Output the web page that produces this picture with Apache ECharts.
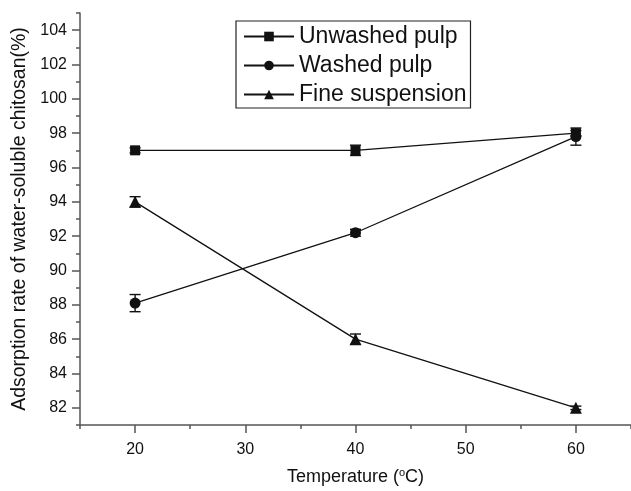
<!DOCTYPE html>
<html>
<head>
<meta charset="utf-8">
<script src="https://cdn.jsdelivr.net/npm/echarts@6/dist/echarts.min.js"></script>
<style>
  html, body { margin: 0; padding: 0; background: #fff; }
  #main { width: 631px; height: 491px; }
</style>
</head>
<body>
<div id="main"></div>
<script>
// data
var temps = [20, 40, 60];
var unwashed = [97.0, 97.0, 98.0];
var unwashedErr = [0.15, 0.3, 0.15];
var washed = [88.1, 92.2, 97.8];
var washedErr = [0.5, 0.2, 0.5];
var fine = [94.0, 86.0, 82.0];
var fineErr = [0.3, 0.3, 0.1];
var xMajor = [20, 30, 40, 50, 60];
var yMajor = [82, 84, 86, 88, 90, 92, 94, 96, 98, 100, 102, 104];

var font = 'Liberation Sans, Arial, sans-serif';
var ink = '#111';
var axisGrey = '#555';

function pairs(ys) {
  return temps.map(function (t, i) { return [t, ys[i]]; });
}
function errRows(ys, es) {
  return temps.map(function (t, i) { return [t, ys[i] - es[i], ys[i] + es[i]]; });
}

function renderErr(params, api) {
  var x = api.value(0);
  var top = api.coord([x, api.value(2)]);
  var bot = api.coord([x, api.value(1)]);
  var half = 5.5;
  var st = { stroke: ink, lineWidth: 1.4 };
  return {
    type: 'group',
    children: [
      { type: 'line', shape: { x1: top[0], y1: top[1], x2: bot[0], y2: bot[1] }, style: st },
      { type: 'line', shape: { x1: top[0] - half, y1: top[1], x2: top[0] + half, y2: top[1] }, style: st },
      { type: 'line', shape: { x1: bot[0] - half, y1: bot[1], x2: bot[0] + half, y2: bot[1] }, style: st }
    ]
  };
}

function lineSeries(name, ys, symbol, size) {
  return {
    name: name,
    type: 'line',
    data: pairs(ys),
    symbol: symbol,
    symbolSize: size,
    z: 5,
    itemStyle: { color: ink },
    lineStyle: { color: ink, width: 1.3 }
  };
}
function errSeries(ys, es) {
  return {
    type: 'custom',
    renderItem: renderErr,
    data: errRows(ys, es),
    encode: { x: 0, y: [1, 2] },
    z: 3,
    silent: true
  };
}

var chart = echarts.init(document.getElementById('main'));
chart.setOption({
  animation: false,
  backgroundColor: '#fff',
  textStyle: { fontFamily: font },
  grid: { left: 80, top: 13, right: -8, bottom: 62 },
  legend: {
    orient: 'vertical',
    left: 236,
    top: 21,
    padding: [4, 4, 2, 7],
    itemWidth: 50,
    itemHeight: 12,
    itemGap: 6,
    borderColor: '#222',
    borderWidth: 1.2,
    textStyle: { fontSize: 23, fontFamily: font, color: ink },
    data: ['Unwashed pulp', 'Washed pulp', 'Fine suspension']
  },
  xAxis: [{
    type: 'value',
    min: 15, max: 65, interval: 5,
    name: 'Temperature ({s|o}C)',
    nameLocation: 'middle',
    nameGap: 42,
    nameTextStyle: {
      fontSize: 18, color: ink, fontFamily: font,
      rich: { s: { fontSize: 11, verticalAlign: 'top', padding: [0, 0, 9, 0], color: ink, fontFamily: font } }
    },
    axisLine: { lineStyle: { color: axisGrey, width: 1.5 } },
    axisTick: { length: 4, lineStyle: { color: axisGrey, width: 1.5 } },
    axisLabel: { customValues: xMajor, fontSize: 16, color: ink, margin: 17, fontFamily: font },
    splitLine: { show: false }
  }, {
    type: 'value',
    position: 'bottom',
    min: 15, max: 65, interval: 5,
    axisLine: { show: false },
    axisTick: { customValues: xMajor, length: 8, lineStyle: { color: axisGrey, width: 1.5 } },
    axisLabel: { show: false },
    splitLine: { show: false }
  }],
  yAxis: [{
    type: 'value',
    min: 81, max: 105, interval: 1,
    name: 'Adsorption rate of water-soluble chitosan(%)',
    nameLocation: 'middle',
    nameGap: 49,
    nameTextStyle: { fontSize: 19.5, color: ink, fontFamily: font },
    axisLine: { show: true, lineStyle: { color: axisGrey, width: 1.5 } },
    axisTick: { show: true, length: 4, lineStyle: { color: axisGrey, width: 1.5 } },
    axisLabel: { customValues: yMajor, fontSize: 16, color: ink, margin: 13, fontFamily: font },
    splitLine: { show: false }
  }, {
    type: 'value',
    position: 'left',
    min: 81, max: 105, interval: 1,
    axisLine: { show: false },
    axisTick: { show: true, customValues: yMajor, length: 8, lineStyle: { color: axisGrey, width: 1.5 } },
    axisLabel: { show: false },
    splitLine: { show: false }
  }],
  series: [
    errSeries(unwashed, unwashedErr),
    errSeries(washed, washedErr),
    errSeries(fine, fineErr),
    lineSeries('Unwashed pulp', unwashed, 'rect', 10),
    lineSeries('Washed pulp', washed, 'circle', 11),
    lineSeries('Fine suspension', fine, 'triangle', 12)
  ]
});
</script>
</body>
</html>
